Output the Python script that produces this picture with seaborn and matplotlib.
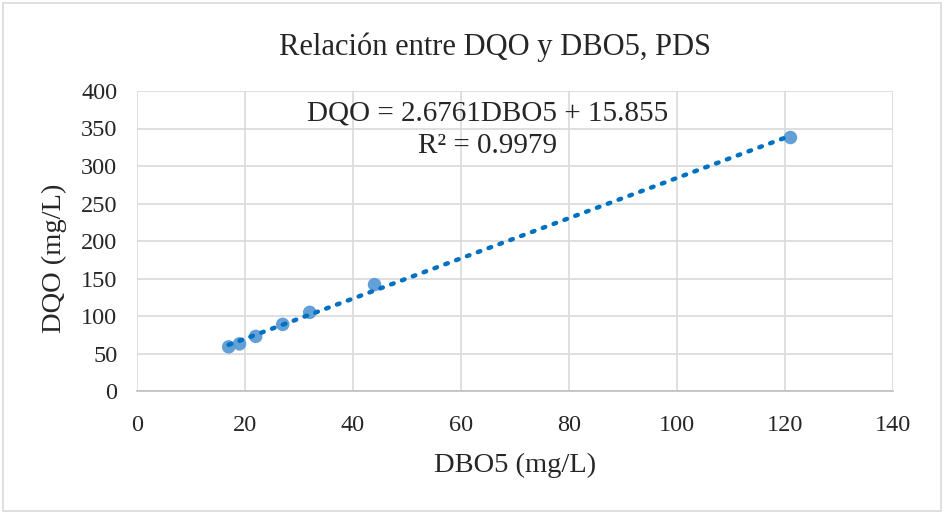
import numpy as np
import pandas as pd
import matplotlib
matplotlib.use('Agg')
import matplotlib.pyplot as plt
import seaborn as sns
from matplotlib.patches import Rectangle

# Datos
dbo5 = [17, 19, 22, 27, 32, 44, 121]
dqo = [59, 63, 73, 89, 105, 142, 338]
ecuacion = 'DQO = 2.6761DBO5 + 15.855'
r2 = 'R² = 0.9979'
x_ticks = [0, 20, 40, 60, 80, 100, 120, 140]
y_ticks = [0, 50, 100, 150, 200, 250, 300, 350, 400]


def plot_dqo_dbo(df):
    sns.set_theme(style='white')
    plt.rcParams['font.family'] = ['Liberation Serif', 'DejaVu Serif']

    fig = plt.figure(figsize=(9.44, 5.14), dpi=100)
    ax = fig.add_axes([0.145, 0.239, 0.801, 0.584])

    sns.scatterplot(x='DBO5', y='DQO', data=df, ax=ax, s=95,
                    color='#5B9BD5', edgecolor='none', alpha=0.95, zorder=3)
    sns.regplot(x='DBO5', y='DQO', data=df, ax=ax, scatter=False, ci=None,
                truncate=True,
                line_kws=dict(color='#0070C0', lw=3.2, linestyle=(0, (0.6, 2.0)),
                              dash_capstyle='round', zorder=4))

    ax.set_xlim(0, 140)
    ax.set_ylim(0, 400)
    ax.set_xticks(x_ticks)
    ax.set_yticks(y_ticks)
    ax.grid(True, color='#d9d9d9', lw=1.2)
    for s in ['top', 'right', 'left']:
        ax.spines[s].set_visible(False)
    ax.spines['bottom'].set_color('#bfbfbf')
    ax.spines['bottom'].set_linewidth(1.2)
    ax.tick_params(axis='x', length=0, pad=17, labelsize=17.5, colors='#262626')
    ax.tick_params(axis='y', length=0, pad=14, labelsize=17.5, colors='#262626')

    ax.set_xlabel('DBO5 (mg/L)', fontsize=20.5, color='#262626', labelpad=12)
    ax.set_ylabel('DQO (mg/L)', fontsize=20.5, color='#262626', labelpad=10, y=0.443)
    ax.set_title('Relación entre DQO y DBO5, PDS', fontsize=22,
                 color='#262626', pad=26, x=0.474)

    ax.text(65, 370, ecuacion, ha='center', va='center', fontsize=21, color='#262626')
    ax.text(65, 327, r2, ha='center', va='center', fontsize=21, color='#262626')

    fig.patches.append(Rectangle((0.003, 0.005), 0.994, 0.99, transform=fig.transFigure,
                                 fill=False, edgecolor='#d9d9d9', lw=1.2))
    fig.savefig('out.png', dpi=100, facecolor='white')


if __name__ == "__main__":
    datos = pd.DataFrame({'DBO5': dbo5, 'DQO': dqo})
    plot_dqo_dbo(datos)
